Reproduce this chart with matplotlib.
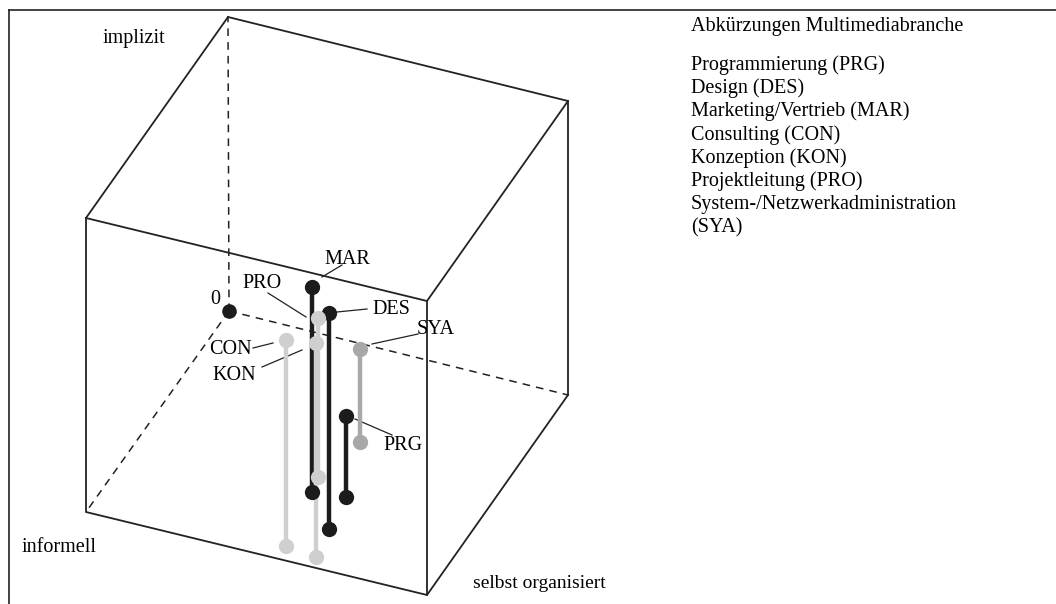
import matplotlib
matplotlib.use("Agg")
import matplotlib.pyplot as plt

plt.rcParams['font.family'] = ['Liberation Serif', 'DejaVu Serif']

# cube corners in drawing units (x to the right, y downwards)
front_x = [86, 427, 427, 86, 86]
front_y = [218, 301, 595, 512, 218]
back_x = [228, 568, 568]
back_y = [17, 101, 395]
# edges joining front and back faces (solid)
link_x = [[86, 228], [427, 568], [427, 568]]
link_y = [[218, 17], [301, 101], [595, 395]]
# hidden edges from the origin corner
origin = (229, 311)
hidden_ends = [(228, 17), (86, 512), (568, 395)]

# job fields: position and span of each bar
roles = ["MAR", "DES", "PRO", "CON", "KON", "SYA", "PRG"]
bar_x = [312, 329, 318, 286, 316, 360, 346]
bar_top = [287, 313, 318, 340, 343, 349, 416]
bar_bottom = [492, 529, 477, 546, 557, 442, 497]
bar_colors = ["#1c1c1c", "#1c1c1c", "#cfcfcf", "#cfcfcf", "#cfcfcf", "#a8a8a8", "#1c1c1c"]

# labels and leader lines
label_x = [347, 372, 262, 230, 234, 417, 383]
label_y = [259, 309, 284, 350, 375, 330, 446]
label_ha = ["center", "left", "center", "center", "center", "left", "left"]
leader_from = [(322, 277), (337, 312), (306, 317), (273, 343), (302, 350), (372, 344), (355, 419)]
leader_to = [(342, 265), (367, 309), (268, 293), (253, 348), (262, 367), (418, 334), (392, 435)]

legend_title = "Abkürzungen Multimediabranche"
legend_items = ["Programmierung (PRG)", "Design (DES)", "Marketing/Vertrieb (MAR)",
                "Consulting (CON)", "Konzeption (KON)", "Projektleitung (PRO)",
                "System-/Netzwerkadministration", "(SYA)"]

fig = plt.figure(figsize=(10.56, 6.04), dpi=100)
ax = fig.add_axes([0, 0, 1, 1])
ax.set_xlim(0, 1056)
ax.set_ylim(604, 0)
ax.axis("off")

# frame lines (top and left)
ax.plot([9, 1056], [10, 10], color="#222222", lw=1.2)
ax.plot([9, 9], [10, 604], color="#222222", lw=1.2)

# cube
ax.plot(front_x, front_y, color="#222222", lw=1.3)
ax.plot(back_x, back_y, color="#222222", lw=1.3)
for xs, ys in zip(link_x, link_y):
    ax.plot(xs, ys, color="#222222", lw=1.3)
for ex, ey in hidden_ends:
    ax.plot([origin[0], ex], [origin[1], ey], color="#222222", lw=1.1,
            linestyle=(0, (5, 4)))

# bars
for i in range(len(roles)):
    ax.plot([bar_x[i], bar_x[i]], [bar_top[i], bar_bottom[i]], color=bar_colors[i],
            lw=3.2, solid_capstyle="butt", zorder=3)
    ax.plot([bar_x[i], bar_x[i]], [bar_top[i], bar_bottom[i]], "o", color=bar_colors[i],
            markersize=11, markeredgewidth=0, zorder=4)

# origin point
ax.plot(origin[0], origin[1], "o", color="#1c1c1c", markersize=10.5, markeredgewidth=0, zorder=4)
ax.text(215, 299, "0", fontsize=14.5, ha="center", va="center")

# leader lines and labels
for i in range(len(roles)):
    ax.plot([leader_from[i][0], leader_to[i][0]], [leader_from[i][1], leader_to[i][1]],
            color="#222222", lw=0.9, zorder=2)
    ax.text(label_x[i], label_y[i], roles[i], fontsize=14.5, ha=label_ha[i], va="center")

# axis names
ax.text(103, 38, "implizit", fontsize=14.5, ha="left", va="center")
ax.text(22, 548, "informell", fontsize=14.5, ha="left", va="center")
ax.text(473, 583, "selbst organisiert", fontsize=14, ha="left", va="center")

# legend
ax.text(691, 26, legend_title, fontsize=14.5, ha="left", va="center")
for k, item in enumerate(legend_items):
    ax.text(691, 65 + k * 23.3, item, fontsize=14.5, ha="left", va="center")

fig.savefig("out.png", dpi=100)
